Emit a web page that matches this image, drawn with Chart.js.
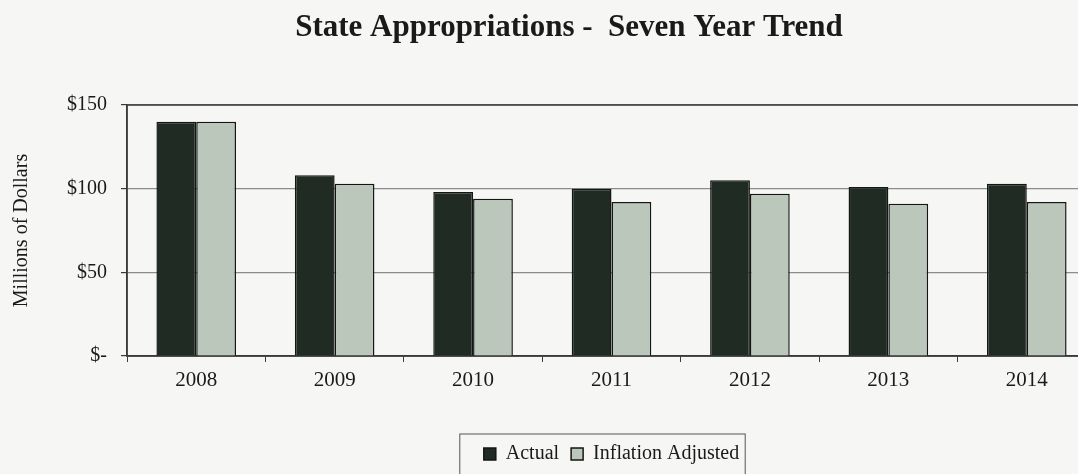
<!DOCTYPE html>
<html>
<head>
<meta charset="utf-8">
<script src="https://cdn.jsdelivr.net/npm/chart.js@4.4.1/dist/chart.umd.min.js"></script>
<style>
  html, body { margin: 0; padding: 0; background: #f6f6f4; overflow: hidden; }
  #wrap { width: 1098px; height: 474px; position: relative; }
</style>
</head>
<body>
<div id="wrap"><canvas id="chart"></canvas></div>
<script>
const years = ['2008', '2009', '2010', '2011', '2012', '2013', '2014'];
const actual = [140, 108, 98, 100, 105, 101, 103];
const inflationAdjusted = [140, 103, 94, 92, 97, 91, 92];
const yTicks = [0, 50, 100, 150];

const serif = '"Liberation Serif", "DejaVu Serif", serif';

// title drawn a bit right of canvas centre, like the scan
const titlePlugin = {
  id: 'scanTitle',
  afterDraw(chart) {
    const ctx = chart.ctx;
    ctx.save();
    ctx.font = 'bold 31px ' + serif;
    ctx.fillStyle = '#1a1a1a';
    ctx.textAlign = 'center';
    ctx.textBaseline = 'middle';
    ctx.fillText('State Appropriations -  Seven Year Trend', 569, 28);
    ctx.restore();
  }
};

// plot box + border around the legend
const framePlugin = {
  id: 'frames',
  beforeDatasetsDraw(chart) {
    const { ctx, chartArea: a } = chart;
    ctx.save();
    ctx.strokeStyle = '#3a3a3a';
    ctx.lineWidth = 1.5;
    ctx.strokeRect(a.left, a.top, a.right - a.left, a.bottom - a.top);
    ctx.restore();
  },
  afterDraw(chart) {
    const lg = chart.legend;
    if (!lg || !lg.legendHitBoxes.length) return;
    const boxes = lg.legendHitBoxes;
    const left = Math.min(...boxes.map(b => b.left)) - 24;
    const right = Math.max(...boxes.map(b => b.left + b.width)) + 6;
    const cy = boxes[0].top + boxes[0].height / 2;
    const ctx = chart.ctx;
    ctx.save();
    ctx.strokeStyle = '#555';
    ctx.lineWidth = 1;
    ctx.strokeRect(left, cy - 20, right - left, 60);
    ctx.restore();
  }
};

new Chart(document.getElementById('chart'), {
  type: 'bar',
  data: {
    labels: years,
    datasets: [
      {
        label: 'Actual',
        data: actual,
        backgroundColor: '#1f2b23',
        borderColor: '#151515',
        borderWidth: 1.5,
        categoryPercentage: 0.575,
        barPercentage: 1.0
      },
      {
        label: 'Inflation Adjusted',
        data: inflationAdjusted,
        backgroundColor: '#bcc7bc',
        borderColor: '#151515',
        borderWidth: 1.5,
        categoryPercentage: 0.575,
        barPercentage: 1.0
      }
    ]
  },
  options: {
    responsive: true,
    maintainAspectRatio: false,
    animation: false,
    layout: { padding: { top: 105, right: 2, left: 0, bottom: 0 } },
    plugins: {
      title: { display: false },
      tooltip: { enabled: false },
      legend: {
        position: 'bottom',
        fullSize: false,
        labels: {
          font: { family: serif, size: 20 },
          color: '#1a1a1a',
          boxWidth: 12,
          boxHeight: 12,
          padding: 12
        }
      }
    },
    scales: {
      x: {
        grid: {
          display: true,
          drawOnChartArea: false,
          offset: true,
          tickLength: 6,
          tickColor: '#3a3a3a'
        },
        border: { color: '#3a3a3a', width: 1.5 },
        ticks: {
          font: { family: serif, size: 21 },
          color: '#1a1a1a',
          padding: 6
        },
        afterFit(scale) { scale.height = 76; }
      },
      y: {
        min: 0,
        max: 150,
        afterBuildTicks(scale) { scale.ticks = yTicks.map(v => ({ value: v })); },
        grid: {
          color: '#8c8c8c',
          lineWidth: 1.2,
          tickLength: 6,
          tickColor: '#3a3a3a'
        },
        border: { color: '#3a3a3a', width: 1.5 },
        ticks: {
          font: { family: serif, size: 20 },
          color: '#1a1a1a',
          padding: 14,
          callback: v => v === 0 ? '$-' : '$' + v
        },
        title: {
          display: true,
          text: 'Millions of Dollars',
          font: { family: serif, size: 20 },
          color: '#1a1a1a',
          padding: { top: 10, bottom: 4 }
        },
        afterFit(scale) { scale.width = 127; }
      }
    }
  },
  plugins: [titlePlugin, framePlugin]
});
</script>
</body>
</html>
